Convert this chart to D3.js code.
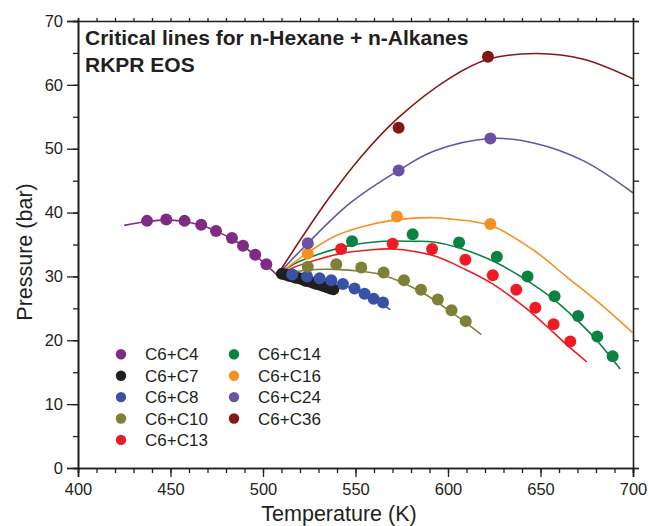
<!DOCTYPE html>
<html>
<head>
<meta charset="utf-8">
<script src="https://cdn.jsdelivr.net/npm/d3@7"></script>
<style>
  body { margin: 0; background: #fff; }
  text { font-family: "Liberation Sans", Arial, sans-serif; fill: #231f20; }
</style>
</head>
<body>
<script>
// series names and colours (legend order)
var seriesNames = ["C6+C4", "C6+C7", "C6+C8", "C6+C10", "C6+C13", "C6+C14", "C6+C16", "C6+C24", "C6+C36"];
var seriesColors = ["#7e2b84", "#231f20", "#3953a4", "#7f7f35", "#ed1c24", "#0a8240", "#f7901e", "#6a51a3", "#861719"];

// experimental points [T (K), P (bar)]
var c4Points = [[437.3, 38.7], [447.7, 38.9], [457.6, 38.7], [466.6, 38.1], [474.6, 37.1], [483.2, 36.0], [489.2, 34.8], [495.8, 33.4], [501.8, 31.9]];
var c7Points = [[510.2, 30.4], [512.1, 30.3], [514.0, 30.1], [515.8, 30.0], [517.7, 29.8], [519.6, 29.7], [521.5, 29.5], [523.3, 29.3], [525.2, 29.2], [527.1, 29.0], [529.0, 28.8], [530.8, 28.7], [532.7, 28.5], [534.6, 28.3], [536.5, 28.1], [538.0, 28.0]];
var c8Points = [[515.8, 30.3], [523.8, 30.0], [530.6, 29.7], [536.9, 29.4], [543.2, 28.8], [549.5, 28.1], [554.9, 27.3], [559.8, 26.5], [564.9, 25.9]];
var c10Points = [[524.2, 31.5], [539.6, 31.9], [553.1, 31.4], [565.2, 30.6], [576.2, 29.4], [585.4, 27.9], [594.5, 26.4], [601.9, 24.7], [609.6, 23.0]];
var c13Points = [[542.2, 34.3], [570.1, 35.1], [591.4, 34.3], [609.4, 32.6], [624.2, 30.2], [636.9, 27.9], [647.2, 25.1], [657.1, 22.5], [666.1, 19.8]];
var c14Points = [[548.1, 35.5], [580.9, 36.6], [606.0, 35.3], [626.4, 33.1], [643.0, 30.0], [657.6, 26.9], [670.3, 23.8], [680.7, 20.6], [689.0, 17.5]];
var c16Points = [[524.2, 33.6], [572.4, 39.4], [622.9, 38.2]];
var c24Points = [[524.2, 35.2], [573.3, 46.6], [622.9, 51.6]];
var c36Points = [[573.3, 53.3], [621.6, 64.4]];

// RKPR calculated critical lines [T (K), P (bar)]
var c4Curve = [[425.0, 38.0], [437.3, 38.6], [447.7, 38.85], [457.6, 38.6], [466.6, 38.0], [474.6, 37.1], [483.2, 35.9], [495.8, 33.3], [507.7, 30.2]];
var c7Curve = [[507.7, 30.2], [522.0, 29.4], [538.0, 28.0]];
var c8Curve = [[507.7, 30.2], [523.8, 29.9], [536.9, 29.3], [549.5, 28.0], [559.8, 26.4], [568.8, 24.8]];
var c10Curve = [[507.7, 30.2], [524.2, 31.0], [539.6, 31.1], [553.1, 30.8], [565.0, 30.2], [585.4, 27.6], [601.8, 24.4], [618.0, 20.9]];
var c13Curve = [[507.7, 30.2], [516.5, 31.4], [529.2, 32.6], [542.2, 33.6], [556.2, 34.1], [570.1, 34.3], [591.4, 33.3], [609.4, 31.1], [624.3, 28.8], [636.9, 26.2], [647.2, 23.8], [657.1, 21.2], [666.1, 18.8], [675.1, 16.6]];
var c14Curve = [[507.7, 30.2], [516.5, 31.9], [529.2, 33.4], [548.1, 34.9], [565.2, 35.5], [580.9, 35.5], [592.2, 35.4], [605.9, 34.5], [626.5, 32.1], [643.0, 29.3], [657.6, 26.3], [670.3, 23.0], [680.7, 19.9], [693.1, 15.5]];
var c16Curve = [[507.7, 30.2], [524.2, 33.7], [538.2, 36.2], [552.6, 37.7], [572.4, 38.9], [592.2, 39.2], [601.2, 39.0], [622.9, 38.0], [646.3, 34.1], [664.3, 29.9], [682.3, 25.7], [699.8, 21.2]];
var c24Curve = [[507.7, 30.2], [524.2, 35.2], [547.2, 41.5], [573.3, 46.6], [592.2, 49.6], [622.9, 51.6], [646.3, 50.9], [673.3, 48.1], [700.0, 43.1]];
var c36Curve = [[507.7, 30.2], [534.5, 41.8], [552.6, 48.6], [573.3, 54.9], [601.2, 61.1], [621.6, 64.0], [648.1, 64.9], [673.3, 64.0], [700.3, 60.9]];

var allPoints = [c4Points, c7Points, c8Points, c10Points, c13Points, c14Points, c16Points, c24Points, c36Points];
var allCurves = [c4Curve, c7Curve, c8Curve, c10Curve, c13Curve, c14Curve, c16Curve, c24Curve, c36Curve];

var xTicks = [400, 450, 500, 550, 600, 650, 700];
var yTicks = [0, 10, 20, 30, 40, 50, 60, 70];
var titleLines = ["Critical lines for n-Hexane + n-Alkanes", "RKPR EOS"];

function draw() {
    var width = 649, height = 526;
    var plotLeft = 78, plotRight = 633, plotTop = 21, plotBottom = 468;

    var svg = d3.select("body").append("svg")
        .attr("width", width)
        .attr("height", height);

    var x = d3.scaleLinear().domain([400, 700]).range([plotLeft, plotRight]);
    var y = d3.scaleLinear().domain([0, 70]).range([plotBottom, plotTop]);

    svg.append("clipPath").attr("id", "plot")
        .append("rect")
        .attr("x", plotLeft).attr("y", plotTop)
        .attr("width", plotRight - plotLeft).attr("height", plotBottom - plotTop);

    // curves first, points above them
    var line = d3.line()
        .x(function (d) { return x(d[0]); })
        .y(function (d) { return y(d[1]); })
        .curve(d3.curveCatmullRom.alpha(0.5));

    var curves = svg.append("g").attr("clip-path", "url(#plot)");
    allCurves.forEach(function (c, i) {
        curves.append("path")
            .datum(c)
            .attr("d", line)
            .attr("fill", "none")
            .attr("stroke", seriesColors[i])
            .attr("stroke-width", 1.6);
    });

    var dots = svg.append("g");
    allPoints.forEach(function (pts, i) {
        dots.selectAll(null)
            .data(pts)
            .enter().append("circle")
            .attr("cx", function (d) { return x(d[0]); })
            .attr("cy", function (d) { return y(d[1]); })
            .attr("r", 6)
            .attr("fill", seriesColors[i]);
    });

    // axes: minor + major ticks
    var xMinor = d3.range(400, 701, 10);
    var yMinor = d3.range(0, 71, 5);

    svg.append("g")
        .attr("transform", "translate(0," + plotBottom + ")")
        .call(d3.axisBottom(x).tickValues(xMinor).tickSize(5).tickFormat(""));
    svg.append("g")
        .attr("transform", "translate(0," + plotBottom + ")")
        .call(d3.axisBottom(x).tickValues(xTicks).tickSize(9).tickPadding(6).tickFormat(d3.format("d")));

    svg.append("g")
        .attr("transform", "translate(" + plotLeft + ",0)")
        .call(d3.axisLeft(y).tickValues(yMinor).tickSize(5).tickFormat(""));
    svg.append("g")
        .attr("transform", "translate(" + plotLeft + ",0)")
        .call(d3.axisLeft(y).tickValues(yTicks).tickSize(11).tickPadding(4).tickFormat(d3.format("d")));

    svg.append("g")
        .attr("transform", "translate(0," + plotTop + ")")
        .call(d3.axisTop(x).tickValues(xMinor).tickSize(3).tickFormat(""));
    svg.append("g")
        .attr("transform", "translate(" + plotRight + ",0)")
        .call(d3.axisRight(y).tickValues(yMinor).tickSize(6).tickFormat(""));

    svg.selectAll(".domain").attr("stroke", "#231f20").attr("stroke-width", 1.6);
    svg.selectAll(".tick line").attr("stroke", "#231f20").attr("stroke-width", 1.3);
    svg.selectAll(".tick text")
        .style("font-family", "'Liberation Sans', Arial, sans-serif")
        .style("font-size", "16.5px")
        .attr("fill", "#231f20");

    // axis titles
    svg.append("text")
        .attr("x", 339).attr("y", 521)
        .attr("text-anchor", "middle")
        .style("font-size", "21.5px")
        .text("Temperature (K)");

    svg.append("text")
        .attr("transform", "translate(32,252) rotate(-90)")
        .attr("text-anchor", "middle")
        .style("font-size", "21.5px")
        .text("Pressure (bar)");

    // title
    svg.selectAll(".title")
        .data(titleLines)
        .enter().append("text")
        .attr("class", "title")
        .attr("x", 85)
        .attr("y", function (d, i) { return 45 + i * 26.7; })
        .style("font-size", "21px")
        .style("font-weight", "bold")
        .text(function (d) { return d; });

    // legend
    var legend = svg.append("g");
    seriesNames.forEach(function (name, i) {
        var col = i < 5 ? 0 : 1, row = i < 5 ? i : i - 5;
        var lx = col === 0 ? 121 : 234, ly = 354.3 + row * 21.4;
        legend.append("circle")
            .attr("cx", lx).attr("cy", ly).attr("r", 5.2)
            .attr("fill", seriesColors[i]);
        legend.append("text")
            .attr("x", lx + 24).attr("y", ly + 6)
            .style("font-size", "17px")
            .text(name);
    });
}

draw();
</script>
</body>
</html>
